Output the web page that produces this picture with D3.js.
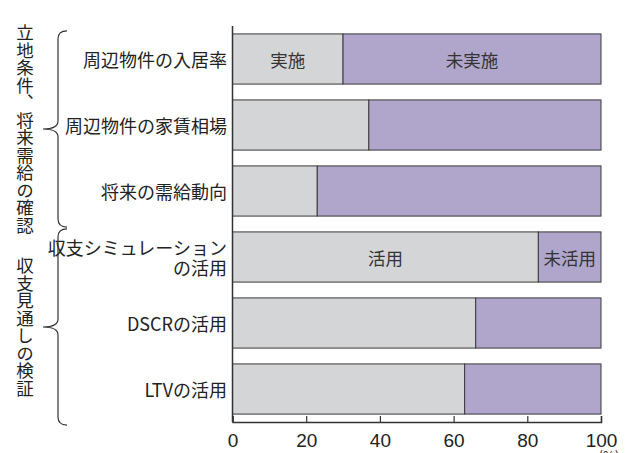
<html lang="ja">
<head>
  <meta charset="UTF-8">
  <title>立地条件・収支見通しの確認</title>
  <style>
    body { margin: 0; background: #fff; }
    text { font-family: "Noto Sans CJK JP", "Noto Sans", sans-serif; fill: #222; }
  </style>
</head>
<body>
  <div class="canvas"></div>
  <script src="https://cdnjs.cloudflare.com/ajax/libs/d3/7.8.5/d3.min.js"></script>
  <script>
// data
const categories = ['周辺物件の入居率', '周辺物件の家賃相場', '将来の需給動向', '収支シミュレーションの活用', 'DSCRの活用', 'LTVの活用'];
const catLines = [['周辺物件の入居率'], ['周辺物件の家賃相場'], ['将来の需給動向'], ['収支シミュレーション', 'の活用'], ['DSCRの活用'], ['LTVの活用']];
const doneValues = [30, 37, 23, 83, 66, 63];
const xTicks = [0, 20, 40, 60, 80, 100];
const groups = [
  { label: '立地条件、将来需給の確認', first: 0, last: 2 },
  { label: '収支見通しの検証', first: 3, last: 5 }
];
// in-bar labels: [row, series, text]
const barLabels = [[0, 0, '実施'], [0, 1, '未実施'], [3, 0, '活用'], [3, 1, '未活用']];

const svg = d3.select('.canvas').append('svg')
  .attr('width', 634)
  .attr('height', 453);

const x = d3.scaleLinear().domain([0, 100]).range([232.5, 601]);
const y = d3.scaleBand().domain(categories).range([26, 422]).paddingInner(0.24).paddingOuter(0.12);

const colors = ['#d4d5d6', '#b0a6cb'];

// bars
categories.forEach((c, i) => {
  const segs = [[0, doneValues[i]], [doneValues[i], 100]];
  svg.selectAll(null)
    .data(segs)
    .enter().append('rect')
    .attr('x', d => x(d[0]))
    .attr('width', d => x(d[1]) - x(d[0]))
    .attr('y', y(c))
    .attr('height', y.bandwidth())
    .attr('fill', (d, j) => colors[j])
    .attr('stroke', '#3a3a3a')
    .attr('stroke-width', 1);
});

// labels inside bars
barLabels.forEach(([r, s, t]) => {
  const c = categories[r];
  const seg = s === 0 ? [0, doneValues[r]] : [doneValues[r], 100];
  svg.append('text')
    .attr('x', (x(seg[0]) + x(seg[1])) / 2)
    .attr('y', y(c) + y.bandwidth() / 2)
    .attr('text-anchor', 'middle')
    .attr('dominant-baseline', 'central')
    .style('font-size', '17.5px')
    .style('fill', '#333')
    .text(t);
});

// y axis line
svg.append('line')
  .attr('x1', x(0)).attr('x2', x(0))
  .attr('y1', 26).attr('y2', 422)
  .attr('stroke', '#333').attr('stroke-width', 1.5);

// x axis (ticks pointing up)
const xAxis = svg.append('g')
  .attr('transform', 'translate(0, 422)')
  .call(d3.axisBottom(x).tickValues(xTicks).tickSizeInner(-6).tickSizeOuter(-6));
xAxis.select('.domain').attr('stroke', '#333').attr('stroke-width', 1.5);
xAxis.selectAll('.tick line').attr('stroke', '#333').attr('stroke-width', 1.2);
xAxis.selectAll('.tick text')
  .attr('y', 25)
  .attr('dy', 0)
  .style('font-size', '19px')
  .style('font-family', '"Liberation Sans", Arial, sans-serif')
  .attr('fill', '#222');

svg.append('text')
  .attr('x', 609).attr('y', 461)
  .attr('text-anchor', 'middle')
  .style('font-size', '13px')
  .text('(%)');

// category labels
categories.forEach((c, i) => {
  const lines = catLines[i];
  const cy = y(c) + y.bandwidth() / 2;
  lines.forEach((l, k) => {
    svg.append('text')
      .attr('x', 227)
      .attr('y', cy + (k - (lines.length - 1) / 2) * 20)
      .attr('text-anchor', 'end')
      .attr('dominant-baseline', 'central')
      .style('font-size', '18px')
      .text(l);
  });
});

// group braces + vertical labels
groups.forEach(g => {
  const top = y(categories[g.first]) - 3;
  const bot = y(categories[g.last]) + y.bandwidth() + 11;
  const mid = (top + bot) / 2;
  const xr = 67, xm = 58, xt = 43;
  svg.append('path')
    .attr('d', `M ${xr} ${top} Q ${xm} ${top} ${xm} ${top + 8} L ${xm} ${mid - 8} Q ${xm} ${mid} ${xt} ${mid}` +
      ` Q ${xm} ${mid} ${xm} ${mid + 8} L ${xm} ${bot - 8} Q ${xm} ${bot} ${xr} ${bot}`)
    .attr('fill', 'none')
    .attr('stroke', '#333')
    .attr('stroke-width', 1.2);

  svg.append('text')
    .attr('x', 25)
    .attr('y', mid)
    .attr('text-anchor', 'middle')
    .style('writing-mode', 'vertical-rl')
    .style('font-size', '17.5px')
    .text(g.label);
});
  </script>
</body>
</html>
